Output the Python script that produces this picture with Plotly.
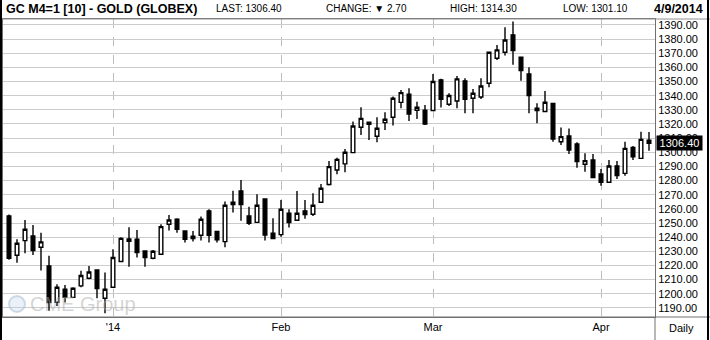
import plotly.graph_objects as go

# ---- data (daily bars, index 0 = Dec 12 2013 ... 80 = Apr 9 2014) ----
day_index = list(range(81))
opens = [1255.0, 1227.2, 1237.6, 1240.9, 1232.9, 1219.7, 1194.0, 1203.2, 1197.5, 1205.6,
         1211.0, 1216.9, 1196.8, 1204.6, 1222.8, 1237.1, 1238.5, 1230.3, 1225.1, 1227.9,
         1249.1, 1252.7, 1244.4, 1239.0, 1241.4, 1258.6, 1244.0, 1236.9, 1263.0, 1272.7,
         1255.0, 1250.5, 1267.0, 1242.8, 1241.8, 1256.9, 1252.0, 1258.6, 1256.2, 1264.7,
         1277.2, 1287.5, 1291.8, 1299.8, 1317.7, 1321.2, 1311.3, 1321.0, 1324.8, 1335.3,
         1341.0, 1329.7, 1329.7, 1329.5, 1351.2, 1334.0, 1336.3, 1350.5, 1338.2, 1339.1,
         1348.8, 1366.5, 1370.7, 1383.0, 1367.2, 1355.4, 1331.1, 1328.8, 1334.6, 1307.5,
         1311.5, 1305.9, 1291.5, 1294.6, 1284.7, 1278.8, 1290.3, 1285.1, 1303.5, 1295.7,
         1308.5]
highs = [1256.0, 1238.5, 1252.2, 1248.7, 1243.2, 1226.8, 1206.7, 1206.3, 1204.6, 1216.2,
         1219.7, 1217.0, 1215.0, 1231.5, 1240.0, 1247.0, 1245.1, 1230.3, 1231.0, 1249.1,
         1255.7, 1253.4, 1244.4, 1244.4, 1254.6, 1259.7, 1244.0, 1265.2, 1272.9, 1280.5,
         1261.6, 1270.3, 1267.0, 1253.4, 1266.3, 1259.7, 1272.7, 1266.3, 1271.0, 1277.6,
         1293.9, 1296.2, 1302.4, 1321.7, 1331.8, 1321.7, 1324.8, 1328.3, 1339.4, 1344.1,
         1345.2, 1335.8, 1333.5, 1355.4, 1351.9, 1341.7, 1354.0, 1352.3, 1344.8, 1352.3,
         1370.7, 1375.9, 1388.4, 1392.4, 1367.7, 1360.1, 1334.7, 1343.4, 1335.1, 1317.6,
         1316.9, 1307.1, 1299.3, 1298.8, 1288.2, 1294.6, 1293.9, 1307.5, 1304.5, 1314.6,
         1314.3]
lows = [1224.0, 1222.0, 1228.6, 1227.5, 1216.4, 1188.1, 1191.4, 1193.8, 1197.5, 1204.6,
        1210.3, 1196.8, 1186.2, 1204.6, 1222.8, 1219.2, 1225.6, 1219.2, 1224.4, 1227.9,
        1244.7, 1243.2, 1236.2, 1236.9, 1237.6, 1236.2, 1236.2, 1232.9, 1257.4, 1251.7,
        1248.7, 1250.5, 1237.6, 1238.5, 1240.4, 1246.8, 1252.0, 1253.1, 1255.0, 1264.7,
        1276.5, 1284.5, 1285.9, 1299.8, 1312.3, 1308.7, 1307.1, 1315.8, 1318.9, 1331.1,
        1322.2, 1323.6, 1319.3, 1329.5, 1331.6, 1332.8, 1331.1, 1327.6, 1327.6, 1337.7,
        1346.0, 1365.3, 1368.4, 1361.8, 1350.5, 1327.6, 1320.5, 1328.8, 1307.5, 1305.2,
        1298.8, 1289.1, 1286.3, 1282.1, 1276.4, 1278.8, 1281.1, 1283.5, 1294.6, 1295.7,
        1301.1]
closes = [1225.0, 1235.7, 1245.6, 1230.5, 1236.7, 1193.8, 1204.6, 1197.5, 1203.9, 1212.9,
          1215.4, 1203.7, 1203.2, 1225.6, 1239.2, 1238.8, 1229.1, 1225.6, 1230.1, 1247.5,
          1252.2, 1245.6, 1238.5, 1240.7, 1252.7, 1241.4, 1238.1, 1262.6, 1264.7, 1263.0,
          1249.8, 1262.6, 1241.6, 1239.0, 1259.7, 1250.3, 1256.9, 1256.0, 1262.6, 1274.6,
          1289.9, 1295.0, 1300.0, 1318.6, 1324.0, 1319.8, 1317.0, 1323.3, 1338.2, 1342.2,
          1327.1, 1331.8, 1320.0, 1350.0, 1337.5, 1340.1, 1351.9, 1337.5, 1341.7, 1346.9,
          1370.7, 1372.4, 1379.4, 1371.9, 1357.8, 1340.1, 1329.5, 1335.4, 1309.4, 1311.1,
          1301.6, 1293.4, 1294.1, 1282.1, 1278.8, 1290.3, 1283.5, 1302.8, 1296.9, 1309.1,
          1306.4]

month_tick_index = [13, 34, 53, 74]
month_tick_text = ["'14", "Feb", "Mar", "Apr"]

title_text = "GC M4=1 [10] - GOLD (GLOBEX)"
last_price = 1306.40
change = 2.70
high_day = 1314.30
low_day = 1301.10
date_text = "4/9/2014"

# ---- layout geometry (pixels) ----
W, H = 710, 340
L, R, T, B = 3, 655, 19, 317

def px(x):
    return (x - L) / (R - L)

def py(y):
    return (B - y) / (B - T)

FONT = "Liberation Sans, Arial, sans-serif"

fig = go.Figure()
fig.add_trace(go.Candlestick(
    x=day_index, open=opens, high=highs, low=lows, close=closes,
    increasing=dict(line=dict(color="black", width=1.4), fillcolor="white"),
    decreasing=dict(line=dict(color="black", width=1.4), fillcolor="black"),
    whiskerwidth=0, showlegend=False, hoverinfo="skip",
))

fig.update_layout(
    width=W, height=H,
    margin=dict(l=L, r=W - R, t=T, b=H - B, pad=0),
    paper_bgcolor="white", plot_bgcolor="white",
    boxgap=0.35,
    font=dict(family=FONT, size=11, color="black"),
    xaxis=dict(
        range=[-0.75, 80.75], rangeslider=dict(visible=False),
        tickmode="array", tickvals=month_tick_index, ticktext=month_tick_text,
        showgrid=True, gridcolor="#bdbdbd", griddash="dash", gridwidth=1,
        ticks="", showline=True, linecolor="#707070", linewidth=1, mirror=True,
        tickfont=dict(size=11, family=FONT), zeroline=False, fixedrange=True,
    ),
    yaxis=dict(
        range=[1183.6, 1394.2], side="right", dtick=10, tick0=1190,
        tickformat=".2f", showgrid=True, gridcolor="#cccccc", gridwidth=1,
        ticks="", showline=True, linecolor="#707070", linewidth=1, mirror=True,
        tickfont=dict(size=11, family=FONT), zeroline=False, fixedrange=True,
    ),
)

# header texts
hdr_y = py(9)
hdr = [
    (4, "<b>" + title_text + "</b>", 12.5),
    (214, "LAST: %.2f" % last_price, 10),
    (324, "CHANGE: \u25BC %.2f" % change, 10),
    (448, "HIGH: %.2f" % high_day, 10),
    (561, "LOW: %.2f" % low_day, 10),
]
for x0, txt, sz in hdr:
    fig.add_annotation(xref="paper", yref="paper", x=px(x0), y=hdr_y, text=txt,
                       showarrow=False, xanchor="left", yanchor="middle",
                       font=dict(size=sz, family=FONT, color="black"))
fig.add_annotation(xref="paper", yref="paper", x=px(705), y=hdr_y,
                   text="<b>" + date_text + "</b>", showarrow=False,
                   xanchor="right", yanchor="middle",
                   font=dict(size=12.5, family=FONT, color="black"))

# last price tag (covers most of the 1310.00 label, as in the reference)
fig.add_annotation(xref="paper", yref="y", x=px(656), y=last_price,
                   text="%.2f" % last_price, showarrow=False, xanchor="left",
                   yanchor="middle", bgcolor="black", borderpad=0,
                   width=45, height=14, align="center",
                   font=dict(size=11, family=FONT, color="white"))

# Daily label
fig.add_annotation(xref="paper", yref="paper", x=px(681), y=py(328), text="Daily",
                   showarrow=False, xanchor="center", yanchor="middle",
                   font=dict(size=11, family=FONT, color="black"))

# watermark
fig.add_annotation(xref="paper", yref="paper", x=px(28), y=py(304), text="CME Group",
                   showarrow=False, xanchor="left", yanchor="middle",
                   font=dict(size=20, family=FONT, color="rgba(170,170,170,0.5)"))
fig.add_shape(type="circle", xref="paper", yref="paper",
              x0=px(9), x1=px(25), y0=py(312), y1=py(296),
              line=dict(color="rgba(150,180,210,0.45)", width=2),
              fillcolor="rgba(190,210,230,0.3)")

# frame lines
frame = [
    (0, 19, 710, 19, "#909090", 1),
    (0, B, 710, B, "#707070", 1),
    (R, B, R, 340, "#707070", 1),
    (1, 0, 1, 340, "black", 2),
    (708, 0, 708, 340, "black", 2),
]
for x0, y0, x1, y1, col, w in frame:
    fig.add_shape(type="line", xref="paper", yref="paper",
                  x0=px(x0), y0=py(y0), x1=px(x1), y1=py(y1),
                  line=dict(color=col, width=w))

fig.write_html("out.html")
